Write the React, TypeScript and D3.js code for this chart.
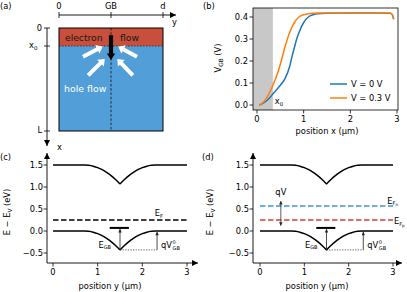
import React from "react";
import * as d3 from "d3";

// ---------- data ----------
// panel (b): V_GB vs depth x
const bPosBlue = [0.05, 0.1, 0.2, 0.3, 0.4, 0.5, 0.6, 0.7, 0.75, 0.8, 0.85, 0.9, 1.0, 1.1, 1.2, 1.3, 1.5, 2.0, 2.5, 2.85, 2.9, 2.93];
const bValBlue = [0, 0.004, 0.018, 0.04, 0.065, 0.09, 0.12, 0.175, 0.22, 0.26, 0.3, 0.33, 0.375, 0.4, 0.41, 0.415, 0.417, 0.418, 0.418, 0.417, 0.41, 0.39];
const bPosOrange = [0.04, 0.1, 0.2, 0.3, 0.35, 0.4, 0.5, 0.6, 0.7, 0.8, 0.9, 1.0, 1.1, 1.3, 1.5, 2.0, 2.5, 2.85, 2.9, 2.93];
const bValOrange = [0, 0.006, 0.03, 0.07, 0.095, 0.12, 0.185, 0.265, 0.33, 0.375, 0.4, 0.41, 0.415, 0.418, 0.418, 0.418, 0.418, 0.418, 0.41, 0.39];
const legendLabels = ["V = 0 V", "V = 0.3 V"];
const x0Depth = 0.34;
const bXTicks = [0, 1, 2, 3];
const bYTicks = [0.0, 0.1, 0.2, 0.3, 0.4];

// panels (c),(d): band diagram along y
const bandPos = [0, 0.6, 0.7, 0.8, 0.9, 1.0, 1.1, 1.2, 1.3, 1.4, 1.5, 1.6, 1.7, 1.8, 1.9, 2.0, 2.1, 2.2, 2.3, 2.4, 3.0];
const valenceE = [0, 0, 0, -0.007, -0.027, -0.06, -0.107, -0.168, -0.242, -0.33, -0.43, -0.33, -0.242, -0.168, -0.107, -0.06, -0.027, -0.007, 0, 0, 0];
const bandGap = 1.5;
const gbPos = 1.5;
const efLevel = 0.25;
const efnLevel = 0.57;
const efpLevel = 0.25;
const trapLevel = 0.07;
const trapRange = [1.27, 1.7];
const vgbArrowPos = 2.33;
const qvArrowPos = 0.47;
const qvArrowRange = [0.12, 0.68];
const cdXTicks = [0, 1, 2, 3];
const cdYTicks = [-0.5, 0.0, 0.5, 1.0, 1.5];

// panel (a): schematic
const topAxisLabels = ["0", "GB", "d"];
const topAxisPos = [0, 0.5, 1];
const leftAxisPos = [0, 0.175, 1];

const FONT = "DejaVu Sans, sans-serif";
const FS = 8.3;
const RED = "#c84f3b";
const BLUE = "#529ed9";
const C_BLUE = "#1f77b4";
const C_ORANGE = "#ff7f0e";

const fmt1 = (v: number) => (v < 0 ? "\u2212" : "") + Math.abs(v).toFixed(1);

function fatArrow(x1: number, y1: number, x2: number, y2: number, sw: number, hw: number, hl: number) {
  const dx = x2 - x1, dy = y2 - y1;
  const L = Math.hypot(dx, dy);
  const ux = dx / L, uy = dy / L;
  const px = -uy, py = ux;
  const bx = x2 - ux * hl, by = y2 - uy * hl;
  const p = (x: number, y: number) => `${x.toFixed(2)},${y.toFixed(2)}`;
  return (
    "M" + p(x1 + px * sw / 2, y1 + py * sw / 2) +
    "L" + p(bx + px * sw / 2, by + py * sw / 2) +
    "L" + p(bx + px * hw / 2, by + py * hw / 2) +
    "L" + p(x2, y2) +
    "L" + p(bx - px * hw / 2, by - py * hw / 2) +
    "L" + p(bx - px * sw / 2, by - py * sw / 2) +
    "L" + p(x1 - px * sw / 2, y1 - py * sw / 2) + "Z"
  );
}

// flow arrows in panel (a): [tail u, tail depth, tip u, tip depth]
const holeArrows = [
  [0.23, 0.28, 0.42, 0.18],
  [0.75, 0.28, 0.57, 0.18],
  [0.28, 0.46, 0.44, 0.30],
  [0.71, 0.46, 0.56, 0.30],
];
const electronArrow = [0.5, 0.07, 0.5, 0.31];

function PanelA() {
  const u = d3.scaleLinear().domain([0, 1]).range([59, 163]);
  const dep = d3.scaleLinear().domain([0, 1]).range([28, 131]);
  return (
    <g>
      <text x={0} y={9} fontSize={FS}>(a)</text>
      {/* top y axis */}
      <line x1={u(0)} x2={176} y1={15} y2={15} stroke="black" strokeWidth={0.9} markerEnd="url(#axArrow)" />
      {topAxisPos.map((p, i) => (
        <g key={i}>
          <line x1={u(p)} x2={u(p)} y1={12} y2={18} stroke="black" strokeWidth={0.8} />
          <text x={u(p)} y={9} textAnchor="middle" fontSize={FS}>{topAxisLabels[i]}</text>
        </g>
      ))}
      <text x={172} y={25} fontSize={FS}>y</text>
      {/* left x axis */}
      <line x1={47} x2={47} y1={dep(0)} y2={146} stroke="black" strokeWidth={0.9} markerEnd="url(#axArrow)" />
      {leftAxisPos.map((p, i) => (
        <line key={i} x1={44} x2={50} y1={dep(p)} y2={dep(p)} stroke="black" strokeWidth={0.8} />
      ))}
      <text x={42} y={dep(0) + 3} textAnchor="end" fontSize={FS}>0</text>
      <text x={29} y={dep(0.175) + 2} fontSize={FS}>x<tspan fontSize={5.5} dy={2}>0</tspan></text>
      <text x={42} y={dep(1) + 2} textAnchor="end" fontSize={FS}>L</text>
      <text x={57} y={150} fontSize={FS}>x</text>
      {/* block */}
      <rect x={u(0)} y={dep(0)} width={u(1) - u(0)} height={dep(1) - dep(0)} fill={BLUE} />
      <rect x={u(0)} y={dep(0)} width={u(1) - u(0)} height={dep(0.175) - dep(0)} fill={RED} />
      <line x1={u(0)} x2={u(1)} y1={dep(0.175)} y2={dep(0.175)} stroke="#222" strokeWidth={0.7} strokeDasharray="1.5,1.5" />
      <line x1={u(0.5)} x2={u(0.5)} y1={dep(0)} y2={dep(1)} stroke="#111" strokeWidth={0.8} strokeDasharray="2.5,1.8" />
      <rect x={u(0)} y={dep(0)} width={u(1) - u(0)} height={dep(1) - dep(0)} fill="none" stroke="black" strokeWidth={1} />
      <text x={65} y={41} fontSize={9.2} fill="#1a1a1a">electron</text>
      <text x={120} y={41} fontSize={9.2} fill="#1a1a1a">flow</text>
      <text x={64} y={92} fontSize={9.4} fill="white">hole flow</text>
      {holeArrows.map((a, i) => (
        <path key={i} d={fatArrow(u(a[0]), dep(a[1]), u(a[2]), dep(a[3]), 4, 9.5, 6)} fill="white" />
      ))}
      <path d={fatArrow(u(electronArrow[0]), dep(electronArrow[1]), u(electronArrow[2]), dep(electronArrow[3]), 4.2, 8.5, 6.5)} fill="black" />
    </g>
  );
}

function PanelB() {
  const x = d3.scaleLinear().domain([0, 3]).range([257, 397]);
  const y = d3.scaleLinear().domain([0, 0.4]).range([105, 17]);
  const left = 253, right = 398, top = 8, bottom = 110;
  const line = d3.line<[number, number]>().x(d => x(d[0])).y(d => y(d[1])).curve(d3.curveMonotoneX);
  const blue = bPosBlue.map((p, i) => [p, bValBlue[i]] as [number, number]);
  const orange = bPosOrange.map((p, i) => [p, bValOrange[i]] as [number, number]);
  return (
    <g>
      <text x={203} y={9} fontSize={FS}>(b)</text>
      <rect x={left} y={top} width={x(x0Depth) - left} height={bottom - top} fill="#c8c8c8" />
      <path d={line(blue) || ""} fill="none" stroke={C_BLUE} strokeWidth={1.5} />
      <path d={line(orange) || ""} fill="none" stroke={C_ORANGE} strokeWidth={1.5} />
      <rect x={left} y={top} width={right - left} height={bottom - top} fill="none" stroke="black" strokeWidth={0.8} />
      {bYTicks.map(t => (
        <g key={t}>
          <line x1={left - 3.5} x2={left} y1={y(t)} y2={y(t)} stroke="black" strokeWidth={0.8} />
          <text x={left - 5} y={y(t)} dy="0.35em" textAnchor="end" fontSize={FS}>{t.toFixed(1)}</text>
        </g>
      ))}
      {bXTicks.map(t => (
        <g key={t}>
          <line x1={x(t)} x2={x(t)} y1={bottom} y2={bottom + 3.5} stroke="black" strokeWidth={0.8} />
          <text x={x(t)} y={bottom + 11.5} textAnchor="middle" fontSize={FS}>{t}</text>
        </g>
      ))}
      <text x={327} y={134} textAnchor="middle" fontSize={FS}>position x (µm)</text>
      <text transform="translate(221,58) rotate(-90)" textAnchor="middle" fontSize={FS}>
        V<tspan fontSize={5.8} dy={2}>GB</tspan><tspan dy={-2}> (V)</tspan>
      </text>
      <text x={x(x0Depth) + 2} y={104} fontSize={FS}>x<tspan fontSize={5.5} dy={2}>0</tspan></text>
      {/* legend */}
      <line x1={330} x2={347} y1={84} y2={84} stroke={C_BLUE} strokeWidth={1.5} />
      <text x={351} y={84} dy="0.35em" fontSize={FS}>{legendLabels[0]}</text>
      <line x1={330} x2={347} y1={98} y2={98} stroke={C_ORANGE} strokeWidth={1.5} />
      <text x={351} y={98} dy="0.35em" fontSize={FS}>{legendLabels[1]}</text>
    </g>
  );
}

function BandPanel({ label, ox, axisLeft, axisRightEnd, x0px, x3px, xLabelCx, yLabelX, tickLabelX, mode }: any) {
  const x = d3.scaleLinear().domain([0, 3]).range([x0px, x3px]);
  const y = d3.scaleLinear().domain([-0.5, 1.5]).range([253, 165]);
  const bottom = 263;
  const line = d3.line<[number, number]>().x(d => x(d[0])).y(d => y(d[1])).curve(d3.curveMonotoneX);
  const pts = bandPos.map((p, i) => [p, valenceE[i]] as [number, number]);
  const leftHalf = pts.filter(d => d[0] <= gbPos);
  const rightHalf = pts.filter(d => d[0] >= gbPos);
  const vb = (line(leftHalf) || "") + (line(rightHalf) || "");
  const cbL = leftHalf.map(d => [d[0], d[1] + bandGap] as [number, number]);
  const cbR = rightHalf.map(d => [d[0], d[1] + bandGap] as [number, number]);
  const cb = (line(cbL) || "") + (line(cbR) || "");
  const vMin = d3.min(valenceE) as number;
  return (
    <g>
      <text x={ox} y={160} fontSize={FS}>{label}</text>
      <line x1={axisLeft} x2={axisLeft} y1={bottom} y2={153} stroke="black" strokeWidth={0.9} markerEnd="url(#axArrow)" />
      <line x1={axisLeft} x2={axisRightEnd} y1={bottom} y2={bottom} stroke="black" strokeWidth={0.9} markerEnd="url(#axArrow)" />
      {cdYTicks.map(t => (
        <g key={t}>
          <line x1={axisLeft - 3.5} x2={axisLeft} y1={y(t)} y2={y(t)} stroke="black" strokeWidth={0.8} />
          <text x={tickLabelX} y={y(t)} dy="0.35em" textAnchor="end" fontSize={FS}>{fmt1(t)}</text>
        </g>
      ))}
      {cdXTicks.map(t => (
        <g key={t}>
          <line x1={x(t)} x2={x(t)} y1={bottom} y2={bottom + 3.5} stroke="black" strokeWidth={0.8} />
          <text x={x(t)} y={bottom + 11.5} textAnchor="middle" fontSize={FS}>{t}</text>
        </g>
      ))}
      <text x={xLabelCx} y={289} textAnchor="middle" fontSize={FS}>position y (µm)</text>
      <text transform={`translate(${yLabelX},212) rotate(-90)`} textAnchor="middle" fontSize={FS}>
        E {"\u2212"} E<tspan fontSize={5.8} dy={2}>V</tspan><tspan dy={-2}> (eV)</tspan>
      </text>
      <path d={cb} fill="none" stroke="black" strokeWidth={1.5} />
      <path d={vb} fill="none" stroke="black" strokeWidth={1.5} />
      {mode === "c" ? (
        <g>
          <line x1={x(0)} x2={x(3)} y1={y(efLevel)} y2={y(efLevel)} stroke="black" strokeWidth={1.5} strokeDasharray="5.5,2.5" />
          <text x={x(2.28)} y={y(efLevel) - 4} fontSize={FS}>E<tspan fontSize={5} dy={1.5}>F</tspan></text>
        </g>
      ) : (
        <g>
          <line x1={x(0)} x2={x(3)} y1={y(efnLevel)} y2={y(efnLevel)} stroke="#3a97dd" strokeWidth={1.5} strokeDasharray="5.5,2.5" />
          <line x1={x(0)} x2={x(3)} y1={y(efpLevel)} y2={y(efpLevel)} stroke="#dd3f3a" strokeWidth={1.5} strokeDasharray="5.5,2.5" />
          <text x={x(2.87)} y={y(efnLevel) - 2} fontSize={FS}>E<tspan fontSize={5} dy={1.5}>F</tspan><tspan fontSize={4} dy={1}>n</tspan></text>
          <text x={x(3.02)} y={y(efpLevel) + 4} fontSize={FS}>E<tspan fontSize={5} dy={1.5}>F</tspan><tspan fontSize={4} dy={1}>p</tspan></text>
          <line x1={x(qvArrowPos)} x2={x(qvArrowPos)} y1={y(qvArrowRange[0])} y2={y(qvArrowRange[1])} stroke="#333" strokeWidth={0.8} markerStart="url(#smArrowS)" markerEnd="url(#smArrow)" />
          <text x={x(qvArrowPos)} y={y(qvArrowRange[1]) - 6} textAnchor="middle" fontSize={FS}>qV</text>
        </g>
      )}
      {/* trap level */}
      <line x1={x(trapRange[0])} x2={x(trapRange[1])} y1={y(trapLevel)} y2={y(trapLevel)} stroke="black" strokeWidth={2} />
      <line x1={x(gbPos)} x2={x(gbPos)} y1={y(vMin)} y2={y(trapLevel) + 1.2} stroke="#222" strokeWidth={0.8} markerEnd="url(#smArrow)" />
      <text x={x(gbPos) - 9} y={y(vMin) - 2} textAnchor="end" fontSize={FS}>E<tspan fontSize={5} dy={1.5}>GB</tspan></text>
      {/* V_GB^0 */}
      <line x1={x(gbPos)} x2={x(vgbArrowPos)} y1={y(vMin)} y2={y(vMin)} stroke="#222" strokeWidth={0.7} strokeDasharray="1.3,1.3" />
      <line x1={x(vgbArrowPos)} x2={x(vgbArrowPos)} y1={y(vMin)} y2={y(0) + 0.8} stroke="#222" strokeWidth={0.8} markerEnd="url(#smArrow)" />
      <text x={x(vgbArrowPos) + 4} y={y(vMin) - 2} fontSize={FS}>qV</text>
      <text x={x(vgbArrowPos) + 15.5} y={y(vMin) - 6} fontSize={5}>0</text>
      <text x={x(vgbArrowPos) + 15.5} y={y(vMin) + 0.5} fontSize={5}>GB</text>
    </g>
  );
}

export default function App() {
  return (
    <svg width={407} height={292} style={{ position: "absolute", left: 0, top: 0, background: "white" }} fontFamily={FONT}>
      <defs>
        <marker id="axArrow" markerUnits="userSpaceOnUse" viewBox="0 0 10 10" refX={10} refY={5} markerWidth={7} markerHeight={6} orient="auto">
          <path d="M0,0 L10,5 L0,10 Z" fill="black" />
        </marker>
        <marker id="smArrow" markerUnits="userSpaceOnUse" viewBox="0 0 10 10" refX={10} refY={5} markerWidth={4} markerHeight={3.5} orient="auto">
          <path d="M0,0 L10,5 L0,10 Z" fill="#222" />
        </marker>
        <marker id="smArrowS" markerUnits="userSpaceOnUse" viewBox="0 0 10 10" refX={10} refY={5} markerWidth={4} markerHeight={3.5} orient="auto-start-reverse">
          <path d="M0,0 L10,5 L0,10 Z" fill="#222" />
        </marker>
      </defs>
      <rect x={0} y={0} width={407} height={292} fill="white" />
      <PanelA />
      <PanelB />
      <BandPanel label="(c)" ox={0} axisLeft={47} axisRightEnd={198} x0px={53} x3px={187} xLabelCx={110} yLabelX={10} tickLabelX={43} mode="c" />
      <BandPanel label="(d)" ox={202} axisLeft={253} axisRightEnd={402} x0px={260} x3px={393} xLabelCx={317} yLabelX={213} tickLabelX={249} mode="d" />
    </svg>
  );
}
